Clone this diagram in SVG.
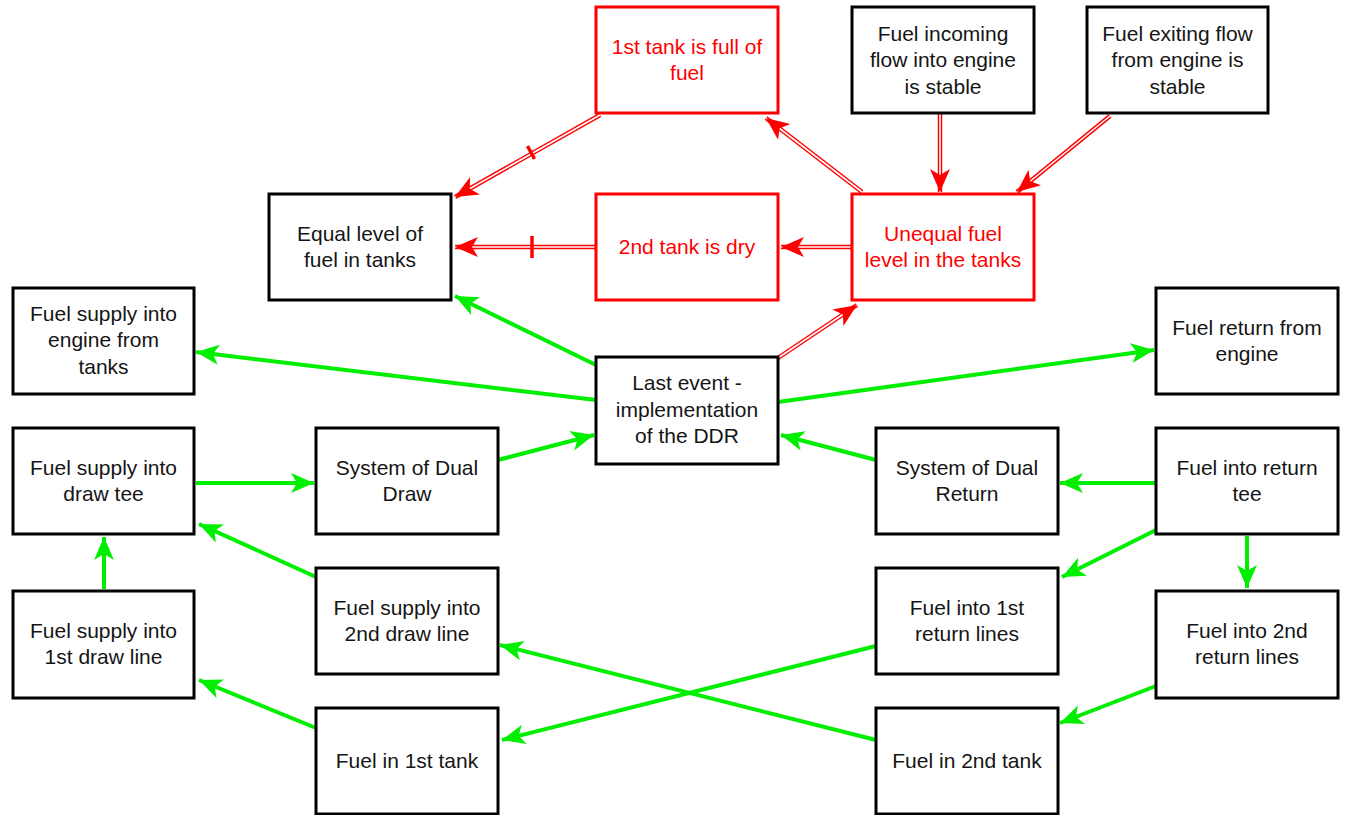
<svg xmlns="http://www.w3.org/2000/svg" width="1345" height="815" viewBox="0 0 1345 815">
<style>
.box{fill:#fff;stroke:#000;stroke-width:3}
.rbox{fill:#fff;stroke:#f00;stroke-width:3}
text{font-family:"Liberation Sans",Arial,sans-serif;font-size:21px;text-anchor:middle;fill:#151515}
.rt{fill:#f00}
.g{stroke:#00ee00;stroke-width:4;fill:none;marker-end:url(#ga)}
.rb{stroke:#f00;stroke-width:4.5;fill:none}
.rg{stroke:#fff;stroke-width:1.6;fill:none;marker-end:url(#ra)}
.tick{stroke:#f00;stroke-width:3.5}
</style>
<defs>
<marker id="ga" markerUnits="userSpaceOnUse" markerWidth="26" markerHeight="22" refX="23" refY="10" orient="auto">
<path d="M0,0 L23,10 L0,20 L6,10 Z" fill="#00ee00"/>
</marker>
<marker id="ra" markerUnits="userSpaceOnUse" markerWidth="26" markerHeight="22" refX="23" refY="10" orient="auto">
<path d="M0,0 L23,10 L0,20 L6,10 Z" fill="#f00"/>
</marker>
</defs>
<rect width="1345" height="815" fill="#fff"/>
<g id="connectors">
<path class="rb" d="M600,115 L455,197"/><path class="rg" d="M600,115 L455,197"/>
<line class="tick" x1="527.5" y1="146" x2="534.5" y2="159"/>
<path class="rb" d="M596,247 L455,247"/><path class="rg" d="M596,247 L455,247"/>
<line class="tick" x1="532" y1="236" x2="532" y2="258"/>
<path class="rb" d="M852,247 L781,247"/><path class="rg" d="M852,247 L781,247"/>
<path class="rb" d="M862,192 L766,118"/><path class="rg" d="M862,192 L766,118"/>
<path class="rb" d="M940,113 L940,192"/><path class="rg" d="M940,113 L940,192"/>
<path class="rb" d="M1110,116 L1017,192"/><path class="rg" d="M1110,116 L1017,192"/>
<path class="rb" d="M778,358 L857,305"/><path class="rg" d="M778,358 L857,305"/>
<path class="g" d="M596,365 L455,296"/>
<path class="g" d="M596,400 L196,352"/>
<path class="g" d="M778,402 L1154,350"/>
<path class="g" d="M498,460 L594,435"/>
<path class="g" d="M876,460 L781,435"/>
<path class="g" d="M196,483 L314,483"/>
<path class="g" d="M1156,483 L1060,483"/>
<path class="g" d="M1156,530 L1062,577"/>
<path class="g" d="M1247,536 L1247,588"/>
<path class="g" d="M104,589 L104,537"/>
<path class="g" d="M316,577 L199,524"/>
<path class="g" d="M316,728 L199,680"/>
<path class="g" d="M876,740 L500,645"/>
<path class="g" d="M876,646 L502,740"/>
<path class="g" d="M1156,686 L1060,723"/>
</g>
<g id="n1"><rect class="rbox" x="596" y="7" width="182" height="106"/><text class="rt" x="687" y="54">1st tank is full of</text><text class="rt" x="687" y="80">fuel</text></g>
<g id="n2"><rect class="box" x="852" y="7" width="182" height="106"/><text x="943" y="41">Fuel incoming</text><text x="943" y="67">flow into engine</text><text x="943" y="94">is stable</text></g>
<g id="n3"><rect class="box" x="1087" y="7" width="181" height="106"/><text x="1177.5" y="41">Fuel exiting flow</text><text x="1177.5" y="67">from engine is</text><text x="1177.5" y="94">stable</text></g>
<g id="n4"><rect class="box" x="269" y="194" width="182" height="106"/><text x="360" y="241">Equal level of</text><text x="360" y="267">fuel in tanks</text></g>
<g id="n5"><rect class="rbox" x="596" y="194" width="182" height="106"/><text class="rt" x="687" y="254">2nd tank is dry</text></g>
<g id="n6"><rect class="rbox" x="852" y="194" width="182" height="106"/><text class="rt" x="943" y="241">Unequal fuel</text><text class="rt" x="943" y="267">level in the tanks</text></g>
<g id="n7"><rect class="box" x="13" y="288" width="181" height="106"/><text x="103.5" y="321">Fuel supply into</text><text x="103.5" y="347">engine from</text><text x="103.5" y="374">tanks</text></g>
<g id="n8"><rect class="box" x="596" y="357" width="182" height="107"/><text x="687" y="390">Last event -</text><text x="687" y="417">implementation</text><text x="687" y="443">of the DDR</text></g>
<g id="n9"><rect class="box" x="1156" y="288" width="182" height="106"/><text x="1247" y="335">Fuel return from</text><text x="1247" y="361">engine</text></g>
<g id="n10"><rect class="box" x="13" y="428" width="181" height="106"/><text x="103.5" y="475">Fuel supply into</text><text x="103.5" y="501">draw tee</text></g>
<g id="n11"><rect class="box" x="316" y="428" width="182" height="106"/><text x="407" y="475">System of Dual</text><text x="407" y="501">Draw</text></g>
<g id="n12"><rect class="box" x="876" y="428" width="182" height="106"/><text x="967" y="475">System of Dual</text><text x="967" y="501">Return</text></g>
<g id="n13"><rect class="box" x="1156" y="428" width="182" height="106"/><text x="1247" y="475">Fuel into return</text><text x="1247" y="501">tee</text></g>
<g id="n14"><rect class="box" x="13" y="591" width="181" height="107"/><text x="103.5" y="638">Fuel supply into</text><text x="103.5" y="664">1st draw line</text></g>
<g id="n15"><rect class="box" x="316" y="568" width="182" height="106"/><text x="407" y="615">Fuel supply into</text><text x="407" y="641">2nd draw line</text></g>
<g id="n16"><rect class="box" x="876" y="568" width="182" height="106"/><text x="967" y="615">Fuel into 1st</text><text x="967" y="641">return lines</text></g>
<g id="n17"><rect class="box" x="1156" y="591" width="182" height="107"/><text x="1247" y="638">Fuel into 2nd</text><text x="1247" y="664">return lines</text></g>
<g id="n18"><rect class="box" x="316" y="708" width="182" height="106"/><text x="407" y="768">Fuel in 1st tank</text></g>
<g id="n19"><rect class="box" x="876" y="708" width="182" height="106"/><text x="967" y="768">Fuel in 2nd tank</text></g>
</svg>
